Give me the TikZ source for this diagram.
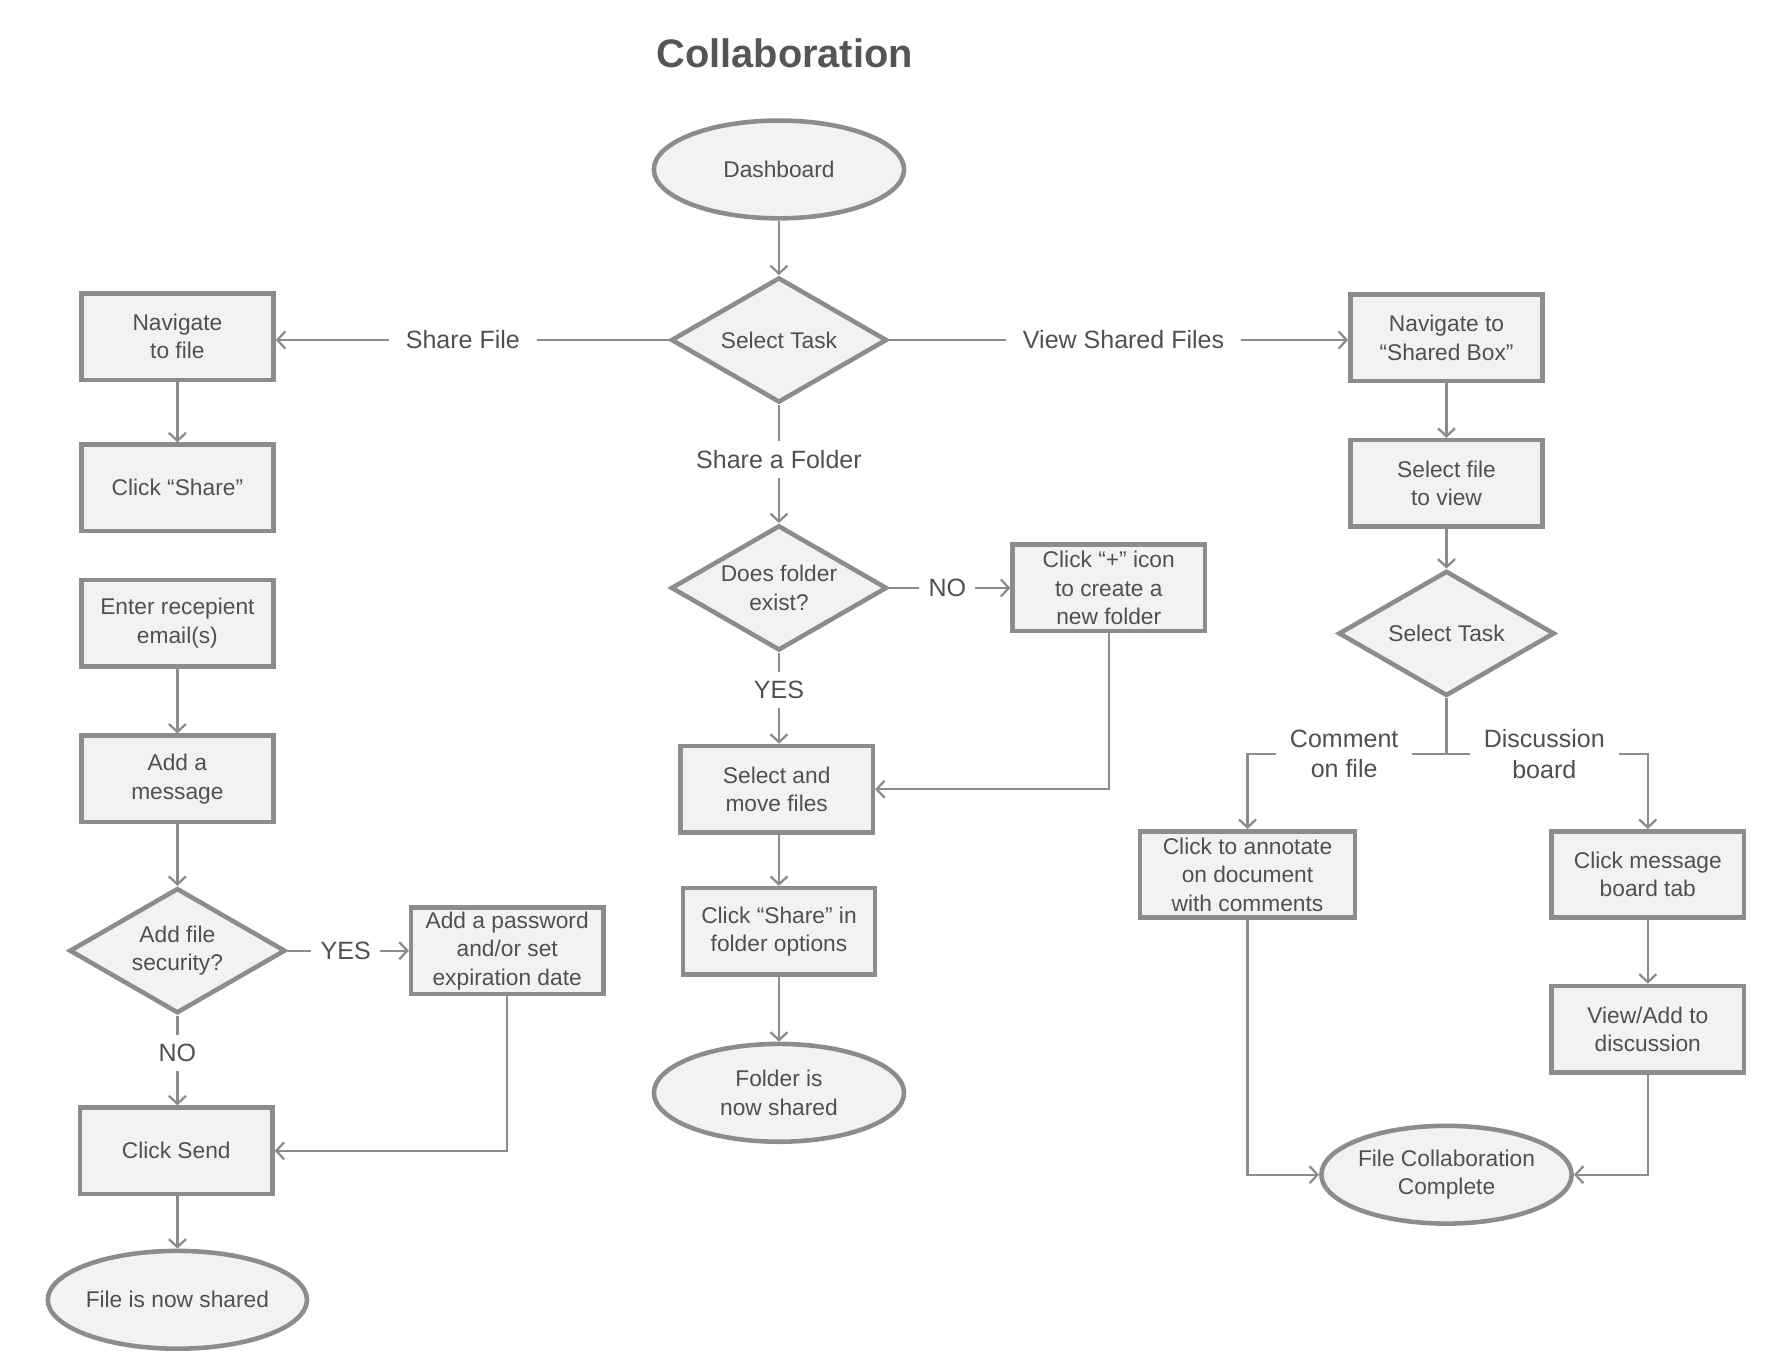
\documentclass[tikz,border=0pt]{standalone}
\usepackage{fontspec}
\setmainfont{Liberation Sans}
\usetikzlibrary{shapes.geometric,arrows.meta}
\definecolor{txt}{HTML}{505050}
\definecolor{ttl}{HTML}{555555}
\definecolor{edge}{HTML}{8C8C8C}
\definecolor{fillc}{HTML}{F2F2F2}
\tikzset{
  base/.style={draw=edge,fill=fillc,line width=4pt,text=txt,align=center,
    font=\fontsize{20}{25}\selectfont,inner sep=0pt},
  box/.style={base,rectangle,minimum width=169pt,minimum height=76pt},
  wbox/.style={box,minimum width=189pt},
  term/.style={base,ellipse,minimum width=220pt,minimum height=86pt},
  dec/.style={base,diamond,aspect=1.7,minimum width=190pt,minimum height=110pt},
  lbl/.style={text=txt,align=center,font=\fontsize{22}{27}\selectfont,inner xsep=15pt,inner ysep=7pt},
  slbl/.style={text=txt,align=center,font=\fontsize{22}{27}\selectfont,inner sep=8pt},
  conn/.style={draw=edge,line width=2pt},
  arr/.style={conn,-{Straight Barb[length=7pt,width=15pt,line width=2pt]}},
}
\begin{document}
\begin{tikzpicture}[x=1pt,y=-1pt]
\useasboundingbox (0,0) rectangle (1560,1206);
\node[text=ttl,font=\fontsize{35}{40}\selectfont\bfseries] (title) at (690,47) {Collaboration};

% center column
\node[term] (dash) at (685,149) {Dashboard};
\node[dec] (st) at (685,299) {Select Task};
\node[lbl] (lsf) at (407,299) {Share File};
\node[lbl] (lvs) at (988,299) {View Shared Files};
\node[lbl,inner xsep=4pt,inner ysep=8pt] (lfo) at (685,404) {Share a Folder};
\node[dec] (fe) at (685,517) {Does folder\\exist?};
\node[slbl] (lno1) at (833,517) {NO};
\node[box] (plus) at (975,517) {Click “+” icon\\to create a\\new folder};
\node[slbl] (lyes1) at (685,607) {YES};
\node[box] (move) at (683,694) {Select and\\move files};
\node[box] (csh) at (685,819) {Click “Share” in\\folder options};
\node[term] (fold) at (685,961) {Folder is\\now shared};

% left column
\node[box] (nav) at (156,296) {Navigate\\to file};
\node[box] (clk) at (156,429) {Click “Share”};
\node[box] (ent) at (156,548) {Enter recepient\\email(s)};
\node[box] (msg) at (156,685) {Add a\\message};
\node[dec] (sec) at (156,836) {Add file\\security?};
\node[slbl] (lyes2) at (304,836) {YES};
\node[box] (pwd) at (446,836) {Add a password\\and/or set\\expiration date};
\node[slbl] (lno2) at (156,926) {NO};
\node[box] (send) at (155,1012) {Click Send};
\node[term] (fsh) at (156,1143) {File is now shared};

% right column
\node[box] (nsb) at (1272,297) {Navigate to\\“Shared Box”};
\node[box] (sfv) at (1272,425) {Select file\\to view};
\node[dec] (st2) at (1272,557) {Select Task};
\coordinate (jn) at (1272,663);
\node[lbl,inner xsep=12pt] (lcf) at (1182,663) {Comment\\on file};
\node[lbl,inner xsep=12pt] (ldb) at (1358,663) {Discussion\\board};
\node[wbox] (ann) at (1097,769) {Click to annotate\\on document\\with comments};
\node[box] (mbt) at (1449,769) {Click message\\board tab};
\node[box] (vad) at (1449,905) {View/Add to\\discussion};
\node[term,minimum width=218pt] (fcc) at (1272,1033) {File Collaboration\\Complete};

% connectors center
\draw[arr] (dash) -- (st);
\draw[conn] (st.west) -- (lsf.east);
\draw[arr] (lsf.west) -- (nav.east|-lsf.west);
\draw[conn] (st.east) -- (lvs.west);
\draw[arr] (lvs.east) -- (nsb.west|-lvs.east);
\draw[conn] (st.south) -- (lfo.north);
\draw[arr] (lfo.south) -- (fe.north);
\draw[conn] (fe.east) -- (lno1.west);
\draw[arr] (lno1.east) -- (plus.west);
\draw[conn] (fe.south) -- (lyes1.north);
\draw[arr] (lyes1.south) -- (lyes1.south|-move.north);
\draw[arr] (plus.south) |- (move.east);
\draw[arr] (move.south-|csh.north) -- (csh.north);
\draw[arr] (csh) -- (fold);

% connectors left
\draw[arr] (nav) -- (clk);
\draw[arr] (ent) -- (msg);
\draw[arr] (msg) -- (sec);
\draw[conn] (sec.east) -- (lyes2.west);
\draw[arr] (lyes2.east) -- (pwd.west);
\draw[conn] (sec.south) -- (lno2.north);
\draw[arr] (lno2.south) -- (lno2.south|-send.north);
\draw[arr] (pwd.south) |- (send.east);
\draw[arr] (send.south-|fsh.north) -- (fsh.north);

% connectors right
\draw[arr] (nsb.south-|sfv.north) -- (sfv.north);
\draw[arr] (sfv) -- (st2);
\draw[conn] (st2.south) -- (jn);
\draw[conn] (lcf.east) -- (ldb.west);
\draw[arr] (lcf.west) -| (ann.north);
\draw[arr] (ldb.east) -| (mbt.north);
\draw[arr] (mbt) -- (vad);
\draw[arr] (ann.south) |- (fcc.west);
\draw[arr] (vad.south) |- (fcc.east);
\end{tikzpicture}
\end{document}
